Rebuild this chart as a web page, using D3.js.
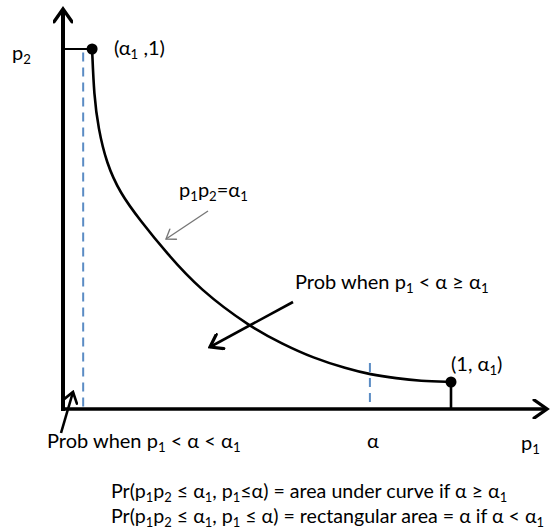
<!DOCTYPE html>
<html>
<head>
<meta charset="utf-8">
<script src="https://cdn.jsdelivr.net/npm/d3@7"></script>
<style>
  html, body { margin: 0; padding: 0; background: #fff; }
  svg { display: block; }
  text { font-family: Lato, "Noto Sans", sans-serif; fill: #000; }
</style>
</head>
<body>
<svg id="chart" width="552" height="530"></svg>
<script>
// Curve p1·p2 = α1, traced as (p1, p2) pairs
const alpha1 = 0.075;
const curveP1 = [alpha1, 0.080, 0.091, 0.112, 0.147, 0.198, 0.267, 0.353, 0.482, 0.567, 0.644, 0.731, 0.791, 0.860, 0.920, 1.0];
const curveP2 = [1.0, 0.870, 0.780, 0.683, 0.600, 0.525, 0.433, 0.331, 0.228, 0.180, 0.142, 0.112, 0.096, 0.085, 0.078, alpha1];

// Two threshold cases for α
const alphaSmall = 0.052;   // α < α1
const alphaLarge = 0.791;   // α ≥ α1
const alphaSmallTop = 0.99;
const alphaLargeTop = 0.128;

const svg = d3.select("#chart");

const x = d3.scaleLinear().domain([0, 1]).range([63, 451]);
const y = d3.scaleLinear().domain([0, 1]).range([409, 49]);

// arrowhead markers
const defs = svg.append("defs");
function chevron(id, size, color, sw) {
  defs.append("marker")
    .attr("id", id)
    .attr("viewBox", "-12 -8 14 16")
    .attr("refX", 0).attr("refY", 0)
    .attr("markerWidth", size).attr("markerHeight", size * 16 / 14)
    .attr("markerUnits", "userSpaceOnUse")
    .attr("orient", "auto")
    .append("path")
    .attr("d", "M-10,-7 L0,0 L-10,7")
    .attr("fill", "none")
    .attr("stroke", color)
    .attr("stroke-width", sw)
    .attr("stroke-linecap", "round")
    .attr("stroke-linejoin", "miter");
}
chevron("axisHead", 18, "#000", 2.6);
chevron("blackHead", 16, "#000", 2.8);
chevron("greyHead", 12, "#777", 1.6);
chevron("smallHead", 14, "#000", 2.6);

// dashed α guides
const dash = svg.append("g")
  .attr("stroke", "#5b8cc4")
  .attr("stroke-width", 2)
  .attr("stroke-dasharray", "9,6");
dash.append("line")
  .attr("x1", x(alphaSmall)).attr("x2", x(alphaSmall))
  .attr("y1", y(alphaSmallTop)).attr("y2", y(0));
dash.append("line")
  .attr("x1", x(alphaLarge)).attr("x2", x(alphaLarge))
  .attr("y1", y(alphaLargeTop)).attr("y2", y(0));

// axes with arrowheads
svg.append("line")
  .attr("x1", x(0)).attr("y1", y(0) + 2)
  .attr("x2", x(0)).attr("y2", 9)
  .attr("stroke", "#000").attr("stroke-width", 4)
  .attr("marker-end", "url(#axisHead)");
svg.append("line")
  .attr("x1", x(0) - 2).attr("y1", y(0))
  .attr("x2", 547).attr("y2", y(0))
  .attr("stroke", "#000").attr("stroke-width", 3.6)
  .attr("marker-end", "url(#axisHead)");

// connectors from endpoints to the axes
svg.append("line")
  .attr("x1", x(0)).attr("x2", x(alpha1))
  .attr("y1", y(1)).attr("y2", y(1))
  .attr("stroke", "#000").attr("stroke-width", 2);
svg.append("line")
  .attr("x1", x(1)).attr("x2", x(1))
  .attr("y1", y(alpha1)).attr("y2", y(0))
  .attr("stroke", "#000").attr("stroke-width", 2.6);

// the curve
const pts = curveP1.map((p, i) => [p, curveP2[i]]);
svg.append("path")
  .datum(pts)
  .attr("fill", "none")
  .attr("stroke", "#000")
  .attr("stroke-width", 2.6)
  .attr("d", d3.line().x(d => x(d[0])).y(d => y(d[1])).curve(d3.curveBasis));

// endpoint dots
svg.selectAll("circle.end")
  .data([[alpha1, 1], [1, alpha1]])
  .join("circle")
  .attr("class", "end")
  .attr("cx", d => x(d[0])).attr("cy", d => y(d[1]))
  .attr("r", 5.5).attr("fill", "#000");

// annotation arrows
svg.append("line")
  .attr("x1", 208).attr("y1", 211).attr("x2", 166).attr("y2", 239)
  .attr("stroke", "#777").attr("stroke-width", 1.3)
  .attr("marker-end", "url(#greyHead)");
svg.append("line")
  .attr("x1", 293).attr("y1", 302).attr("x2", 210).attr("y2", 347)
  .attr("stroke", "#000").attr("stroke-width", 2.6)
  .attr("marker-end", "url(#blackHead)");
svg.append("line")
  .attr("x1", 61).attr("y1", 433).attr("x2", 73).attr("y2", 392)
  .attr("stroke", "#000").attr("stroke-width", 2.6)
  .attr("marker-end", "url(#smallHead)");

// text with subscripts: parts are [text, isSub]
function rich(xp, yp, parts, size) {
  const t = svg.append("text").attr("x", xp).attr("y", yp)
    .attr("font-size", size);
  const drop = size * 0.2;
  parts.forEach(([s, sub], i) => {
    const prevSub = i > 0 ? parts[i - 1][1] : false;
    let dy = 0;
    if (sub && !prevSub) dy = drop;
    else if (!sub && prevSub) dy = -drop;
    t.append("tspan")
      .attr("dy", dy)
      .attr("font-size", sub ? size * 0.66 : size)
      .text(s);
  });
  return t;
}

const fs = 20;
rich(12, 60, [["p", false], ["2", true]], fs);
rich(114, 55, [["(α", false], ["1", true], [" ,1)", false]], fs);
rich(179, 197, [["p", false], ["1", true], ["p", false], ["2", true], ["=α", false], ["1", true]], fs);
rich(295, 289, [["Prob when p", false], ["1", true], [" < α ≥ α", false], ["1", true]], fs);
rich(451, 371, [["(1, α", false], ["1", true], [")", false]], fs);
rich(47, 448, [["Prob when p", false], ["1", true], [" < α < α", false], ["1", true]], fs);
rich(367, 448, [["α", false]], fs);
rich(521, 450, [["p", false], ["1", true]], fs);
rich(111, 498, [["Pr(p", false], ["1", true], ["p", false], ["2", true], [" ≤ α", false], ["1", true], [", p", false], ["1", true], ["≤α) = area under curve if α ≥ α", false], ["1", true]], 19.6);
rich(111, 523, [["Pr(p", false], ["1", true], ["p", false], ["2", true], [" ≤ α", false], ["1", true], [", p", false], ["1", true], [" ≤ α) = rectangular area = α if α < α", false], ["1", true]], 19.6);
</script>
</body>
</html>
